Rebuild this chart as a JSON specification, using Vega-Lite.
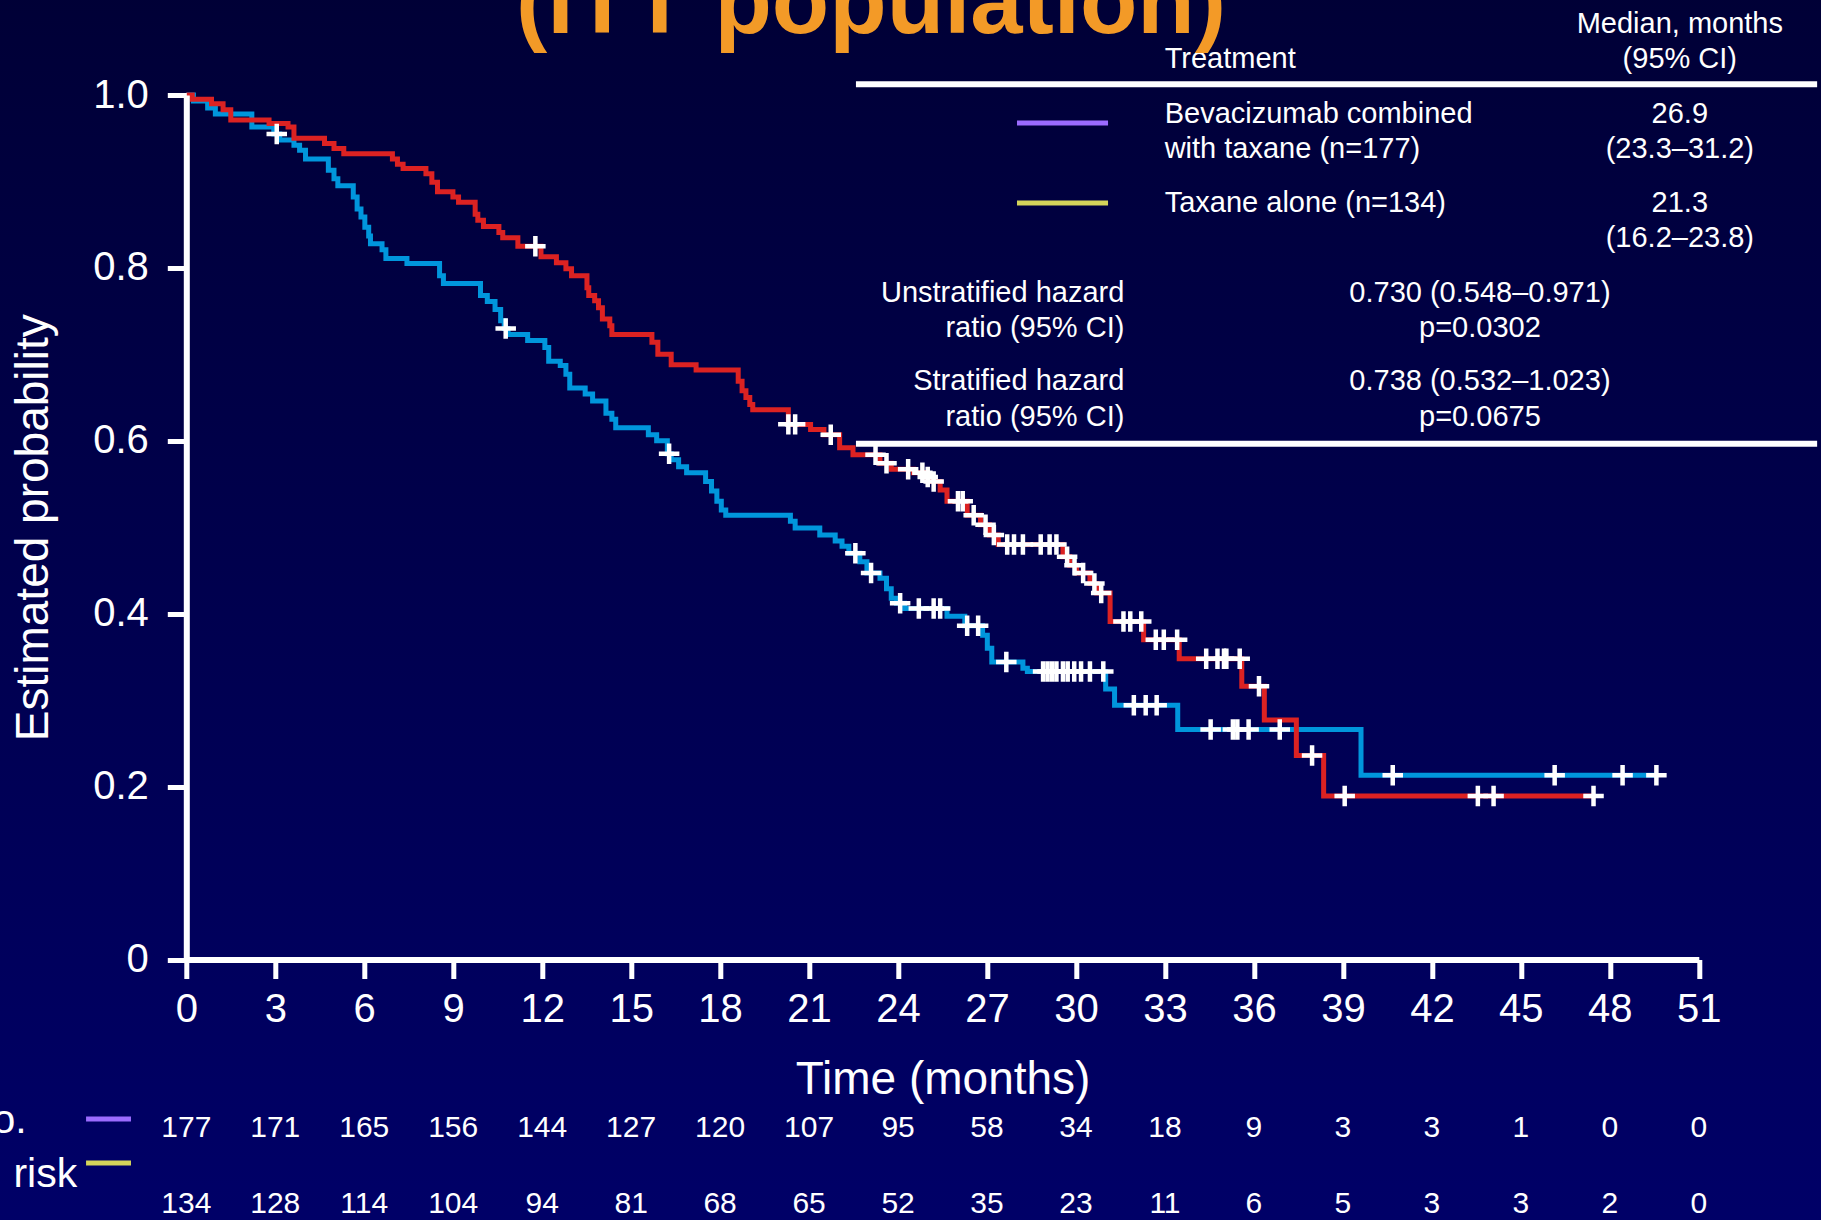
{
  "$schema": "https://vega.github.io/schema/vega-lite/v6.json",
  "width": 1512.5,
  "height": 864.5,
  "autosize": {"type": "none"},
  "padding": {"left": 186.3, "top": 95, "right": 122.2, "bottom": 260.5},
  "background": "#00004c",
  "config": {"view": {"stroke": null}, "font": "Liberation Sans"},
  "datasets": {
    "km": [
      {"g":"Bev","t":0,"s":1.0},{"g":"Bev","t":0.2,"s":0.995},{"g":"Bev","t":0.85,"s":0.990},{"g":"Bev","t":1.24,"s":0.983},{"g":"Bev","t":1.5,"s":0.971},{"g":"Bev","t":2.79,"s":0.967},{"g":"Bev","t":3.43,"s":0.963},{"g":"Bev","t":3.63,"s":0.950},{"g":"Bev","t":4.66,"s":0.944},{"g":"Bev","t":4.98,"s":0.938},{"g":"Bev","t":5.31,"s":0.932},{"g":"Bev","t":6.95,"s":0.926},{"g":"Bev","t":7.12,"s":0.920},{"g":"Bev","t":7.31,"s":0.915},{"g":"Bev","t":8.08,"s":0.909},{"g":"Bev","t":8.28,"s":0.899},{"g":"Bev","t":8.47,"s":0.888},{"g":"Bev","t":8.99,"s":0.882},{"g":"Bev","t":9.18,"s":0.876},{"g":"Bev","t":9.74,"s":0.862},{"g":"Bev","t":9.83,"s":0.855},{"g":"Bev","t":10.02,"s":0.848},{"g":"Bev","t":10.54,"s":0.841},{"g":"Bev","t":10.67,"s":0.835},{"g":"Bev","t":11.18,"s":0.825},{"g":"Bev","t":11.96,"s":0.813},{"g":"Bev","t":12.48,"s":0.806},{"g":"Bev","t":12.8,"s":0.799},{"g":"Bev","t":12.99,"s":0.791},{"g":"Bev","t":13.51,"s":0.777},{"g":"Bev","t":13.57,"s":0.768},{"g":"Bev","t":13.77,"s":0.762},{"g":"Bev","t":13.9,"s":0.754},{"g":"Bev","t":14.03,"s":0.741},{"g":"Bev","t":14.28,"s":0.733},{"g":"Bev","t":14.35,"s":0.723},{"g":"Bev","t":15.7,"s":0.714},{"g":"Bev","t":15.9,"s":0.700},{"g":"Bev","t":16.35,"s":0.688},{"g":"Bev","t":17.19,"s":0.682},{"g":"Bev","t":18.61,"s":0.669},{"g":"Bev","t":18.74,"s":0.658},{"g":"Bev","t":18.87,"s":0.650},{"g":"Bev","t":19.0,"s":0.642},{"g":"Bev","t":19.1,"s":0.636},{"g":"Bev","t":20.3,"s":0.619},{"g":"Bev","t":21.05,"s":0.613},{"g":"Bev","t":21.5,"s":0.607},{"g":"Bev","t":22.03,"s":0.592},{"g":"Bev","t":22.48,"s":0.584},{"g":"Bev","t":23.39,"s":0.574},{"g":"Bev","t":23.77,"s":0.567},{"g":"Bev","t":24.52,"s":0.563},{"g":"Bev","t":24.9,"s":0.558},{"g":"Bev","t":25.1,"s":0.553},{"g":"Bev","t":25.42,"s":0.543},{"g":"Bev","t":25.65,"s":0.530},{"g":"Bev","t":26.33,"s":0.514},{"g":"Bev","t":26.78,"s":0.503},{"g":"Bev","t":27.08,"s":0.491},{"g":"Bev","t":27.38,"s":0.480},{"g":"Bev","t":29.56,"s":0.466},{"g":"Bev","t":29.79,"s":0.456},{"g":"Bev","t":30.02,"s":0.447},{"g":"Bev","t":30.47,"s":0.435},{"g":"Bev","t":30.7,"s":0.424},{"g":"Bev","t":31.15,"s":0.391},{"g":"Bev","t":32.28,"s":0.370},{"g":"Bev","t":33.48,"s":0.348},{"g":"Bev","t":35.59,"s":0.316},{"g":"Bev","t":36.35,"s":0.277},{"g":"Bev","t":37.43,"s":0.236},{"g":"Bev","t":38.35,"s":0.189},{"g":"Bev","t":47.45,"s":0.189},
      {"g":"Tax","t":0,"s":1.0},{"g":"Tax","t":0.24,"s":0.993},{"g":"Tax","t":0.72,"s":0.985},{"g":"Tax","t":0.98,"s":0.978},{"g":"Tax","t":2.21,"s":0.963},{"g":"Tax","t":2.95,"s":0.955},{"g":"Tax","t":3.15,"s":0.948},{"g":"Tax","t":3.63,"s":0.942},{"g":"Tax","t":3.82,"s":0.936},{"g":"Tax","t":4.02,"s":0.926},{"g":"Tax","t":4.79,"s":0.913},{"g":"Tax","t":4.98,"s":0.903},{"g":"Tax","t":5.11,"s":0.895},{"g":"Tax","t":5.63,"s":0.882},{"g":"Tax","t":5.76,"s":0.868},{"g":"Tax","t":5.89,"s":0.859},{"g":"Tax","t":6.02,"s":0.847},{"g":"Tax","t":6.15,"s":0.837},{"g":"Tax","t":6.21,"s":0.828},{"g":"Tax","t":6.6,"s":0.821},{"g":"Tax","t":6.73,"s":0.811},{"g":"Tax","t":7.44,"s":0.805},{"g":"Tax","t":8.54,"s":0.791},{"g":"Tax","t":8.67,"s":0.782},{"g":"Tax","t":9.92,"s":0.768},{"g":"Tax","t":10.15,"s":0.761},{"g":"Tax","t":10.41,"s":0.752},{"g":"Tax","t":10.6,"s":0.739},{"g":"Tax","t":10.72,"s":0.730},{"g":"Tax","t":10.85,"s":0.723},{"g":"Tax","t":11.51,"s":0.716},{"g":"Tax","t":12.09,"s":0.708},{"g":"Tax","t":12.22,"s":0.692},{"g":"Tax","t":12.61,"s":0.687},{"g":"Tax","t":12.8,"s":0.677},{"g":"Tax","t":12.93,"s":0.661},{"g":"Tax","t":13.45,"s":0.654},{"g":"Tax","t":13.7,"s":0.646},{"g":"Tax","t":14.15,"s":0.632},{"g":"Tax","t":14.35,"s":0.625},{"g":"Tax","t":14.48,"s":0.615},{"g":"Tax","t":15.58,"s":0.607},{"g":"Tax","t":15.86,"s":0.600},{"g":"Tax","t":16.22,"s":0.585},{"g":"Tax","t":16.35,"s":0.578},{"g":"Tax","t":16.6,"s":0.570},{"g":"Tax","t":16.87,"s":0.563},{"g":"Tax","t":17.51,"s":0.553},{"g":"Tax","t":17.71,"s":0.542},{"g":"Tax","t":17.89,"s":0.530},{"g":"Tax","t":18.04,"s":0.520},{"g":"Tax","t":18.19,"s":0.514},{"g":"Tax","t":20.37,"s":0.507},{"g":"Tax","t":20.53,"s":0.499},{"g":"Tax","t":21.36,"s":0.491},{"g":"Tax","t":21.88,"s":0.484},{"g":"Tax","t":22.11,"s":0.478},{"g":"Tax","t":22.34,"s":0.470},{"g":"Tax","t":22.71,"s":0.460},{"g":"Tax","t":22.95,"s":0.447},{"g":"Tax","t":23.39,"s":0.441},{"g":"Tax","t":23.61,"s":0.429},{"g":"Tax","t":23.77,"s":0.418},{"g":"Tax","t":23.95,"s":0.412},{"g":"Tax","t":24.22,"s":0.406},{"g":"Tax","t":25.65,"s":0.397},{"g":"Tax","t":26.25,"s":0.386},{"g":"Tax","t":26.85,"s":0.375},{"g":"Tax","t":27.01,"s":0.360},{"g":"Tax","t":27.16,"s":0.344},{"g":"Tax","t":28.21,"s":0.337},{"g":"Tax","t":28.36,"s":0.333},{"g":"Tax","t":31.0,"s":0.313},{"g":"Tax","t":31.3,"s":0.294},{"g":"Tax","t":33.43,"s":0.266},{"g":"Tax","t":39.61,"s":0.213},{"g":"Tax","t":49.6,"s":0.213}
    ],
    "cens": [
      {"g":"Bev","t":11.77,"s":0.825},{"g":"Bev","t":20.3,"s":0.619},{"g":"Bev","t":20.53,"s":0.619},{"g":"Bev","t":21.73,"s":0.607},{"g":"Bev","t":23.24,"s":0.584},{"g":"Bev","t":23.61,"s":0.574},{"g":"Bev","t":24.34,"s":0.567},{"g":"Bev","t":24.82,"s":0.563},{"g":"Bev","t":25.0,"s":0.558},{"g":"Bev","t":25.2,"s":0.553},{"g":"Bev","t":26.02,"s":0.530},{"g":"Bev","t":26.18,"s":0.530},{"g":"Bev","t":26.55,"s":0.514},{"g":"Bev","t":26.95,"s":0.503},{"g":"Bev","t":27.23,"s":0.491},{"g":"Bev","t":27.68,"s":0.480},{"g":"Bev","t":27.91,"s":0.480},{"g":"Bev","t":28.21,"s":0.480},{"g":"Bev","t":28.81,"s":0.480},{"g":"Bev","t":29.11,"s":0.480},{"g":"Bev","t":29.34,"s":0.480},{"g":"Bev","t":29.7,"s":0.466},{"g":"Bev","t":29.95,"s":0.456},{"g":"Bev","t":30.24,"s":0.447},{"g":"Bev","t":30.62,"s":0.435},{"g":"Bev","t":30.85,"s":0.424},{"g":"Bev","t":31.6,"s":0.391},{"g":"Bev","t":31.83,"s":0.391},{"g":"Bev","t":32.2,"s":0.391},{"g":"Bev","t":32.69,"s":0.370},{"g":"Bev","t":32.96,"s":0.370},{"g":"Bev","t":33.41,"s":0.370},{"g":"Bev","t":34.39,"s":0.348},{"g":"Bev","t":34.77,"s":0.348},{"g":"Bev","t":34.99,"s":0.348},{"g":"Bev","t":35.07,"s":0.348},{"g":"Bev","t":35.52,"s":0.348},{"g":"Bev","t":36.17,"s":0.316},{"g":"Bev","t":37.96,"s":0.236},{"g":"Bev","t":39.06,"s":0.189},{"g":"Bev","t":43.55,"s":0.189},{"g":"Bev","t":44.08,"s":0.189},{"g":"Bev","t":47.45,"s":0.189},
      {"g":"Tax","t":3.05,"s":0.955},{"g":"Tax","t":10.77,"s":0.730},{"g":"Tax","t":16.28,"s":0.585},{"g":"Tax","t":22.56,"s":0.470},{"g":"Tax","t":23.09,"s":0.447},{"g":"Tax","t":24.07,"s":0.412},{"g":"Tax","t":24.7,"s":0.406},{"g":"Tax","t":25.2,"s":0.406},{"g":"Tax","t":25.42,"s":0.406},{"g":"Tax","t":26.33,"s":0.386},{"g":"Tax","t":26.7,"s":0.386},{"g":"Tax","t":27.65,"s":0.344},{"g":"Tax","t":28.89,"s":0.333},{"g":"Tax","t":29.04,"s":0.333},{"g":"Tax","t":29.19,"s":0.333},{"g":"Tax","t":29.34,"s":0.333},{"g":"Tax","t":29.56,"s":0.333},{"g":"Tax","t":29.72,"s":0.333},{"g":"Tax","t":29.94,"s":0.333},{"g":"Tax","t":30.17,"s":0.333},{"g":"Tax","t":30.47,"s":0.333},{"g":"Tax","t":30.92,"s":0.333},{"g":"Tax","t":31.95,"s":0.294},{"g":"Tax","t":32.35,"s":0.294},{"g":"Tax","t":32.72,"s":0.294},{"g":"Tax","t":34.54,"s":0.266},{"g":"Tax","t":35.29,"s":0.266},{"g":"Tax","t":35.44,"s":0.266},{"g":"Tax","t":35.82,"s":0.266},{"g":"Tax","t":36.87,"s":0.266},{"g":"Tax","t":40.68,"s":0.213},{"g":"Tax","t":46.14,"s":0.213},{"g":"Tax","t":48.43,"s":0.213},{"g":"Tax","t":49.57,"s":0.213}
    ],
    "risk": [
      {"g":"Bev","t":0,"n":177},{"g":"Bev","t":3,"n":171},{"g":"Bev","t":6,"n":165},{"g":"Bev","t":9,"n":156},{"g":"Bev","t":12,"n":144},{"g":"Bev","t":15,"n":127},{"g":"Bev","t":18,"n":120},{"g":"Bev","t":21,"n":107},{"g":"Bev","t":24,"n":95},{"g":"Bev","t":27,"n":58},{"g":"Bev","t":30,"n":34},{"g":"Bev","t":33,"n":18},{"g":"Bev","t":36,"n":9},{"g":"Bev","t":39,"n":3},{"g":"Bev","t":42,"n":3},{"g":"Bev","t":45,"n":1},{"g":"Bev","t":48,"n":0},{"g":"Bev","t":51,"n":0},
      {"g":"Tax","t":0,"n":134},{"g":"Tax","t":3,"n":128},{"g":"Tax","t":6,"n":114},{"g":"Tax","t":9,"n":104},{"g":"Tax","t":12,"n":94},{"g":"Tax","t":15,"n":81},{"g":"Tax","t":18,"n":68},{"g":"Tax","t":21,"n":65},{"g":"Tax","t":24,"n":52},{"g":"Tax","t":27,"n":35},{"g":"Tax","t":30,"n":23},{"g":"Tax","t":33,"n":11},{"g":"Tax","t":36,"n":6},{"g":"Tax","t":39,"n":5},{"g":"Tax","t":42,"n":3},{"g":"Tax","t":45,"n":3},{"g":"Tax","t":48,"n":2},{"g":"Tax","t":51,"n":0}
    ],
    "notes": [
      {"label":"Median, months","tx":50.36,"ty":1.0714,"kind":"c"},
      {"label":"(95% CI)","tx":50.36,"ty":1.0309,"kind":"c"},
      {"label":"Treatment","tx":32.99,"ty":1.0309,"kind":"l"},
      {"label":"Bevacizumab combined","tx":32.99,"ty":0.9673,"kind":"l"},
      {"label":"with taxane (n=177)","tx":32.99,"ty":0.9268,"kind":"l"},
      {"label":"26.9","tx":50.36,"ty":0.9673,"kind":"c"},
      {"label":"(23.3–31.2)","tx":50.36,"ty":0.9268,"kind":"c"},
      {"label":"Taxane alone (n=134)","tx":32.99,"ty":0.865,"kind":"l"},
      {"label":"21.3","tx":50.36,"ty":0.865,"kind":"c"},
      {"label":"(16.2–23.8)","tx":50.36,"ty":0.8245,"kind":"c"},
      {"label":"Unstratified hazard","tx":31.63,"ty":0.7609,"kind":"r"},
      {"label":"ratio (95% CI)","tx":31.63,"ty":0.7204,"kind":"r"},
      {"label":"0.730 (0.548–0.971)","tx":43.62,"ty":0.7609,"kind":"c"},
      {"label":"p=0.0302","tx":43.62,"ty":0.7204,"kind":"c"},
      {"label":"Stratified hazard","tx":31.63,"ty":0.6588,"kind":"r"},
      {"label":"ratio (95% CI)","tx":31.63,"ty":0.6171,"kind":"r"},
      {"label":"0.738 (0.532–1.023)","tx":43.62,"ty":0.6588,"kind":"c"},
      {"label":"p=0.0675","tx":43.62,"ty":0.6171,"kind":"c"},
      {"label":"(ITT population)","tx":23.09,"ty":1.0717,"kind":"title"},
      {"label":"No.","tx":-5.38,"ty":-0.2007,"kind":"rr"},
      {"label":"risk","tx":-5.83,"ty":-0.2628,"kind":"rl"}
    ],
    "rules": [
      {"x1":22.58,"x2":54.99,"y":1.0124,"k":"w"},
      {"x1":22.58,"x2":54.99,"y":0.5966,"k":"w"},
      {"x1":28.01,"x2":31.08,"y":0.9676,"k":"Bev"},
      {"x1":28.01,"x2":31.08,"y":0.8751,"k":"Tax"},
      {"x1":-3.38,"x2":-1.865,"y":-0.1845,"k":"Bev"},
      {"x1":-3.38,"x2":-1.865,"y":-0.2354,"k":"Tax"}
    ]
  },
  "layer": [
    {
      "data": {"values": [{"bg": 1}]},
      "mark": {"type": "rect", "clip": false, "fill": {"gradient": "linear", "x1": 0, "y1": 0, "x2": 0, "y2": 1, "stops": [{"offset": 0, "color": "#000035"}, {"offset": 1, "color": "#000068"}]}},
      "encoding": {
        "x": {"datum": -10, "type": "quantitative"},
        "x2": {"datum": 60},
        "y": {"datum": 1.15, "type": "quantitative"},
        "y2": {"datum": -0.32}
      }
    },
    {
      "data": {"name": "km"},
      "transform": [{"filter": "datum.g === 'Tax'"}],
      "mark": {"type": "line", "interpolate": "step-after", "strokeWidth": 5, "color": "#0096dc"},
      "encoding": {
        "x": {"field": "t", "type": "quantitative", "title": "Time (months)", "scale": {"domain": [0, 51], "nice": false, "zero": false},
          "axis": {"values": [0,3,6,9,12,15,18,21,24,27,30,33,36,39,42,45,48,51], "grid": false, "domainColor": "#ffffff", "domainWidth": 6, "tickColor": "#ffffff", "tickWidth": 5, "tickSize": 19, "labelColor": "#ffffff", "labelFontSize": 40, "labelFont": "Liberation Sans", "labelPadding": 11, "labelFlush": false, "labelOverlap": false, "titleColor": "#ffffff", "titleFontSize": 46, "titleFontWeight": "normal", "titleFont": "Liberation Sans", "titlePadding": 28, "zindex": 1}},
        "y": {"field": "s", "type": "quantitative", "title": "Estimated probability", "scale": {"domain": [0, 1], "nice": false, "zero": false},
          "axis": {"values": [0, 0.2, 0.4, 0.6, 0.8, 1], "labelExpr": "datum.value == 0 ? '0' : format(datum.value, '.1f')", "grid": false, "domainColor": "#ffffff", "domainWidth": 6, "tickColor": "#ffffff", "tickWidth": 5, "tickSize": 19, "labelColor": "#ffffff", "labelFontSize": 40, "labelFont": "Liberation Sans", "labelPadding": 19, "labelOverlap": false, "labelFlush": false, "titleColor": "#ffffff", "titleFontSize": 46, "titleFontWeight": "normal", "titleFont": "Liberation Sans", "titlePadding": 35, "zindex": 1}}
      }
    },
    {
      "data": {"name": "km"},
      "transform": [{"filter": "datum.g === 'Bev'"}],
      "mark": {"type": "line", "interpolate": "step-after", "strokeWidth": 5, "color": "#dc2222"},
      "encoding": {
        "x": {"field": "t", "type": "quantitative"},
        "y": {"field": "s", "type": "quantitative"}
      }
    },
    {
      "data": {"name": "cens"},
      "mark": {"type": "point", "shape": "M-1,0H1M0,-1V1", "size": 420, "filled": false, "stroke": "#ffffff", "strokeWidth": 4.5, "opacity": 1},
      "encoding": {
        "x": {"field": "t", "type": "quantitative"},
        "y": {"field": "s", "type": "quantitative"}
      }
    },
    {
      "data": {"name": "risk"},
      "transform": [{"filter": "datum.g === 'Bev'"}],
      "mark": {"type": "text", "align": "center", "baseline": "alphabetic", "fontSize": 30, "color": "#ffffff", "font": "Liberation Sans"},
      "encoding": {
        "x": {"field": "t", "type": "quantitative"},
        "y": {"datum": -0.2053, "type": "quantitative"},
        "text": {"field": "n", "type": "quantitative"}
      }
    },
    {
      "data": {"name": "risk"},
      "transform": [{"filter": "datum.g === 'Tax'"}],
      "mark": {"type": "text", "align": "center", "baseline": "alphabetic", "fontSize": 30, "color": "#ffffff", "font": "Liberation Sans"},
      "encoding": {
        "x": {"field": "t", "type": "quantitative"},
        "y": {"datum": -0.2936, "type": "quantitative"},
        "text": {"field": "n", "type": "quantitative"}
      }
    },
    {
      "data": {"name": "rules"},
      "transform": [{"filter": "datum.k === 'w'"}],
      "mark": {"type": "rule", "color": "#ffffff", "strokeWidth": 6},
      "encoding": {
        "x": {"field": "x1", "type": "quantitative"},
        "x2": {"field": "x2"},
        "y": {"field": "y", "type": "quantitative"}
      }
    },
    {
      "data": {"name": "rules"},
      "transform": [{"filter": "datum.k === 'Bev'"}],
      "mark": {"type": "rule", "color": "#9b6bff", "strokeWidth": 5},
      "encoding": {
        "x": {"field": "x1", "type": "quantitative"},
        "x2": {"field": "x2"},
        "y": {"field": "y", "type": "quantitative"}
      }
    },
    {
      "data": {"name": "rules"},
      "transform": [{"filter": "datum.k === 'Tax'"}],
      "mark": {"type": "rule", "color": "#d4d45a", "strokeWidth": 5},
      "encoding": {
        "x": {"field": "x1", "type": "quantitative"},
        "x2": {"field": "x2"},
        "y": {"field": "y", "type": "quantitative"}
      }
    },
    {
      "data": {"name": "notes"},
      "transform": [{"filter": "datum.kind === 'c'"}],
      "mark": {"type": "text", "align": "center", "baseline": "alphabetic", "fontSize": 29, "color": "#ffffff", "font": "Liberation Sans"},
      "encoding": {
        "x": {"field": "tx", "type": "quantitative"},
        "y": {"field": "ty", "type": "quantitative"},
        "text": {"field": "label"}
      }
    },
    {
      "data": {"name": "notes"},
      "transform": [{"filter": "datum.kind === 'l'"}],
      "mark": {"type": "text", "align": "left", "baseline": "alphabetic", "fontSize": 29, "color": "#ffffff", "font": "Liberation Sans"},
      "encoding": {
        "x": {"field": "tx", "type": "quantitative"},
        "y": {"field": "ty", "type": "quantitative"},
        "text": {"field": "label"}
      }
    },
    {
      "data": {"name": "notes"},
      "transform": [{"filter": "datum.kind === 'r'"}],
      "mark": {"type": "text", "align": "right", "baseline": "alphabetic", "fontSize": 29, "color": "#ffffff", "font": "Liberation Sans"},
      "encoding": {
        "x": {"field": "tx", "type": "quantitative"},
        "y": {"field": "ty", "type": "quantitative"},
        "text": {"field": "label"}
      }
    },
    {
      "data": {"name": "notes"},
      "transform": [{"filter": "datum.kind === 'title'"}],
      "mark": {"type": "text", "align": "center", "baseline": "alphabetic", "fontSize": 94, "fontWeight": "bold", "color": "#f39a27", "font": "Liberation Sans"},
      "encoding": {
        "x": {"field": "tx", "type": "quantitative"},
        "y": {"field": "ty", "type": "quantitative"},
        "text": {"field": "label"}
      }
    },
    {
      "data": {"name": "notes"},
      "transform": [{"filter": "datum.kind === 'rr'"}],
      "mark": {"type": "text", "align": "right", "baseline": "alphabetic", "fontSize": 41, "color": "#ffffff", "font": "Liberation Sans"},
      "encoding": {
        "x": {"field": "tx", "type": "quantitative"},
        "y": {"field": "ty", "type": "quantitative"},
        "text": {"field": "label"}
      }
    },
    {
      "data": {"name": "notes"},
      "transform": [{"filter": "datum.kind === 'rl'"}],
      "mark": {"type": "text", "align": "left", "baseline": "alphabetic", "fontSize": 41, "color": "#ffffff", "font": "Liberation Sans"},
      "encoding": {
        "x": {"field": "tx", "type": "quantitative"},
        "y": {"field": "ty", "type": "quantitative"},
        "text": {"field": "label"}
      }
    }
  ]
}
